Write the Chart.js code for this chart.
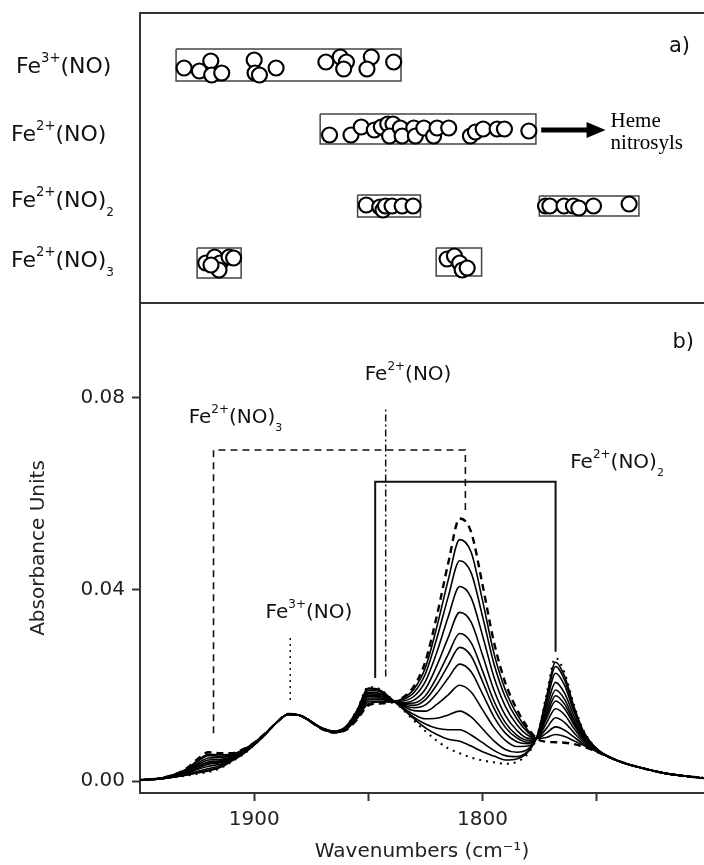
<!DOCTYPE html>
<html>
<head>
<meta charset="utf-8">
<script src="https://cdn.jsdelivr.net/npm/chart.js@4.4.0/dist/chart.umd.min.js"></script>
<style>
  html, body { margin: 0; padding: 0; background: #fff; }
  #wrap { position: relative; width: 704px; height: 865px; overflow: hidden; }
  #topChart { position: absolute; left: 0; top: 0; }
  #bottomChart { position: absolute; left: 0; top: 303px; }
</style>
</head>
<body>
<div id="wrap">
  <canvas id="topChart" width="704" height="305" style="width:704px;height:305px"></canvas>
  <canvas id="bottomChart" width="704" height="562" style="width:704px;height:562px"></canvas>
</div>
<script>
// ---------- panel a) : literature band positions (cm-1), y = row level + jitter ----------
const fe3NO_wn = [1930.7, 1924.0, 1919.0, 1918.6, 1914.2, 1900.0, 1899.6, 1897.7, 1890.4, 1868.6, 1862.3, 1859.6, 1860.8, 1848.7, 1850.6, 1838.9];
const fe3NO_y  = [23.5, 23.2, 24.2, 22.8, 23.0, 24.3, 23.0, 22.8, 23.5, 24.1, 24.6, 24.1, 23.4, 24.6, 23.4, 24.1];

const fe2NO_wn = [1867.0, 1857.6, 1853.1, 1847.4, 1844.3, 1841.5, 1839.2, 1840.7, 1836.0, 1835.2, 1830.1, 1829.4, 1825.7, 1821.4, 1819.9, 1814.8, 1805.3, 1803.1, 1799.7, 1793.6, 1790.4, 1779.7];
const fe2NO_y  = [16.8, 16.8, 17.6, 17.3, 17.6, 17.9, 17.9, 16.7, 17.5, 16.7, 17.5, 16.7, 17.5, 16.7, 17.5, 17.5, 16.7, 17.1, 17.4, 17.4, 17.4, 17.2];

const fe2NO2_wn = [1850.9, 1845.0, 1843.6, 1842.5, 1839.6, 1835.2, 1830.4, 1772.4, 1770.5, 1764.3, 1760.2, 1757.8, 1751.4, 1735.8];
const fe2NO2_y  = [9.8, 9.6, 9.3, 9.7, 9.7, 9.7, 9.7, 9.7, 9.7, 9.7, 9.7, 9.5, 9.7, 9.9];

const fe2NO3_wn = [1921.2, 1917.3, 1914.9, 1911.0, 1909.0, 1915.4, 1918.9, 1815.5, 1812.3, 1810.0, 1808.9, 1806.7];
const fe2NO3_y  = [4.0, 4.6, 4.0, 4.6, 4.5, 3.3, 3.8, 4.4, 4.7, 4.0, 3.3, 3.5];

// boxes: [high wn, low wn, top level, bottom level]
const rangeBoxes = [
  [1934.2, 1835.7, 25.4, 22.2],
  [1871.1, 1776.6, 18.9, 15.9],
  [1854.7, 1827.2, 10.8, 8.6],
  [1775.1, 1731.5, 10.7, 8.7],
  [1925.0, 1905.7, 5.5, 2.5],
  [1820.3, 1800.4, 5.5, 2.7]
];

const rowLabels = [
  [["Fe", ""], ["3+", "sup"], ["(NO)", ""]],
  [["Fe", ""], ["2+", "sup"], ["(NO)", ""]],
  [["Fe", ""], ["2+", "sup"], ["(NO)", ""], ["2", "sub"]],
  [["Fe", ""], ["2+", "sup"], ["(NO)", ""], ["3", "sub"]]
];
const rowLabelLevel = [23.0, 16.2, 9.6, 3.6];
const rowLabelLeft = [16, 11, 11, 11];

// arrow "Heme nitrosyls"
const hemeArrow = { from: 1774.3, to: 1746.1, level: 17.3 };

// ---------- panel b) : IR spectra ----------
const wavenumbers = [1950, 1940, 1930, 1925, 1920, 1915, 1910, 1905, 1900, 1895, 1890, 1885, 1880, 1870, 1865, 1860, 1855, 1850, 1845, 1840, 1835, 1830, 1825, 1820, 1815, 1810, 1805, 1800, 1795, 1790, 1785, 1780, 1776, 1772, 1768, 1764, 1760, 1756, 1752, 1748, 1740, 1730, 1720, 1703];

// first spectrum (dotted)
const firstSpectrum = [0.0002, 0.0005, 0.0011, 0.0015, 0.0019, 0.0026, 0.0040, 0.0055, 0.0075, 0.0098, 0.0123, 0.0139, 0.0137, 0.0110, 0.0104, 0.0113, 0.0148, 0.0196, 0.0192, 0.0172, 0.0150, 0.0126, 0.0104, 0.0084, 0.0068, 0.0058, 0.0049, 0.0043, 0.0039, 0.0036, 0.0040, 0.0058, 0.0095, 0.0180, 0.0257, 0.0225, 0.0160, 0.0108, 0.0078, 0.0060, 0.0041, 0.0027, 0.0016, 0.0006];

// intermediate spectra (solid)
const spectrum01 = [0.0002, 0.0005, 0.0012, 0.0017, 0.0021, 0.0028, 0.0041, 0.0056, 0.0075, 0.0098, 0.0123, 0.0139, 0.0137, 0.0110, 0.0104, 0.0113, 0.0147, 0.0194, 0.0190, 0.0172, 0.0151, 0.0130, 0.0111, 0.0097, 0.0087, 0.0083, 0.0073, 0.0061, 0.0052, 0.0044, 0.0046, 0.0061, 0.0095, 0.0175, 0.0248, 0.0218, 0.0156, 0.0106, 0.0077, 0.0060, 0.0041, 0.0027, 0.0016, 0.0006];
const spectrum02 = [0.0002, 0.0005, 0.0012, 0.0018, 0.0023, 0.0029, 0.0042, 0.0056, 0.0076, 0.0098, 0.0123, 0.0139, 0.0137, 0.0110, 0.0104, 0.0112, 0.0146, 0.0192, 0.0189, 0.0171, 0.0152, 0.0133, 0.0119, 0.0110, 0.0107, 0.0107, 0.0096, 0.0080, 0.0064, 0.0053, 0.0051, 0.0063, 0.0094, 0.0170, 0.0239, 0.0210, 0.0152, 0.0104, 0.0077, 0.0060, 0.0041, 0.0027, 0.0016, 0.0006];
const spectrum03 = [0.0002, 0.0005, 0.0014, 0.0020, 0.0026, 0.0032, 0.0043, 0.0057, 0.0076, 0.0098, 0.0123, 0.0139, 0.0137, 0.0110, 0.0103, 0.0112, 0.0144, 0.0189, 0.0187, 0.0171, 0.0154, 0.0139, 0.0130, 0.0131, 0.0138, 0.0146, 0.0134, 0.0109, 0.0084, 0.0066, 0.0060, 0.0067, 0.0094, 0.0162, 0.0225, 0.0199, 0.0145, 0.0102, 0.0076, 0.0059, 0.0041, 0.0027, 0.0016, 0.0006];
const spectrum04 = [0.0002, 0.0006, 0.0015, 0.0024, 0.0031, 0.0035, 0.0045, 0.0058, 0.0076, 0.0099, 0.0123, 0.0139, 0.0137, 0.0109, 0.0103, 0.0111, 0.0142, 0.0185, 0.0183, 0.0170, 0.0157, 0.0147, 0.0146, 0.0160, 0.0180, 0.0200, 0.0186, 0.0149, 0.0112, 0.0085, 0.0072, 0.0073, 0.0093, 0.0152, 0.0206, 0.0183, 0.0136, 0.0098, 0.0074, 0.0059, 0.0041, 0.0027, 0.0016, 0.0006];
const spectrum05 = [0.0002, 0.0006, 0.0016, 0.0026, 0.0035, 0.0038, 0.0047, 0.0059, 0.0077, 0.0099, 0.0123, 0.0139, 0.0137, 0.0109, 0.0103, 0.0110, 0.0140, 0.0182, 0.0181, 0.0169, 0.0159, 0.0153, 0.0159, 0.0183, 0.0215, 0.0244, 0.0228, 0.0182, 0.0134, 0.0100, 0.0082, 0.0078, 0.0092, 0.0143, 0.0190, 0.0170, 0.0128, 0.0094, 0.0073, 0.0059, 0.0041, 0.0027, 0.0016, 0.0006];
const spectrum06 = [0.0002, 0.0006, 0.0017, 0.0029, 0.0037, 0.0040, 0.0048, 0.0060, 0.0077, 0.0099, 0.0123, 0.0139, 0.0137, 0.0109, 0.0103, 0.0110, 0.0139, 0.0179, 0.0178, 0.0168, 0.0161, 0.0158, 0.0170, 0.0201, 0.0242, 0.0279, 0.0261, 0.0208, 0.0152, 0.0112, 0.0090, 0.0081, 0.0092, 0.0136, 0.0178, 0.0160, 0.0123, 0.0092, 0.0072, 0.0059, 0.0041, 0.0027, 0.0016, 0.0006];
const spectrum07 = [0.0002, 0.0006, 0.0018, 0.0030, 0.0040, 0.0042, 0.0049, 0.0061, 0.0078, 0.0099, 0.0123, 0.0140, 0.0137, 0.0109, 0.0102, 0.0109, 0.0138, 0.0177, 0.0177, 0.0168, 0.0162, 0.0163, 0.0178, 0.0217, 0.0265, 0.0308, 0.0289, 0.0230, 0.0167, 0.0122, 0.0096, 0.0085, 0.0091, 0.0130, 0.0167, 0.0151, 0.0118, 0.0090, 0.0071, 0.0058, 0.0041, 0.0027, 0.0016, 0.0006];
const spectrum08 = [0.0002, 0.0006, 0.0019, 0.0033, 0.0044, 0.0045, 0.0051, 0.0062, 0.0078, 0.0099, 0.0123, 0.0140, 0.0137, 0.0109, 0.0102, 0.0109, 0.0136, 0.0173, 0.0174, 0.0167, 0.0164, 0.0169, 0.0192, 0.0241, 0.0300, 0.0352, 0.0332, 0.0263, 0.0190, 0.0137, 0.0106, 0.0089, 0.0091, 0.0121, 0.0151, 0.0138, 0.0110, 0.0086, 0.0070, 0.0058, 0.0041, 0.0027, 0.0016, 0.0006];
const spectrum09 = [0.0002, 0.0006, 0.0021, 0.0036, 0.0048, 0.0049, 0.0053, 0.0063, 0.0079, 0.0099, 0.0123, 0.0140, 0.0137, 0.0109, 0.0102, 0.0108, 0.0134, 0.0169, 0.0171, 0.0166, 0.0167, 0.0177, 0.0208, 0.0269, 0.0343, 0.0406, 0.0383, 0.0304, 0.0217, 0.0156, 0.0118, 0.0095, 0.0090, 0.0110, 0.0132, 0.0122, 0.0101, 0.0082, 0.0069, 0.0058, 0.0041, 0.0027, 0.0016, 0.0006];
const spectrum10 = [0.0002, 0.0007, 0.0022, 0.0040, 0.0053, 0.0052, 0.0055, 0.0064, 0.0079, 0.0100, 0.0123, 0.0140, 0.0137, 0.0108, 0.0102, 0.0107, 0.0132, 0.0165, 0.0167, 0.0165, 0.0170, 0.0185, 0.0224, 0.0298, 0.0385, 0.0460, 0.0435, 0.0344, 0.0245, 0.0175, 0.0130, 0.0101, 0.0089, 0.0100, 0.0113, 0.0106, 0.0092, 0.0078, 0.0067, 0.0058, 0.0041, 0.0027, 0.0016, 0.0006];
const spectrum11 = [0.0002, 0.0007, 0.0024, 0.0042, 0.0056, 0.0055, 0.0056, 0.0065, 0.0080, 0.0100, 0.0123, 0.0140, 0.0137, 0.0108, 0.0101, 0.0107, 0.0130, 0.0161, 0.0165, 0.0165, 0.0172, 0.0192, 0.0237, 0.0322, 0.0420, 0.0504, 0.0478, 0.0377, 0.0267, 0.0190, 0.0140, 0.0105, 0.0089, 0.0091, 0.0097, 0.0093, 0.0084, 0.0075, 0.0066, 0.0057, 0.0041, 0.0027, 0.0016, 0.0006];

// last spectrum (dashed)
const lastSpectrum = [0.0002, 0.0007, 0.0025, 0.0045, 0.0060, 0.0058, 0.0058, 0.0066, 0.0080, 0.0100, 0.0123, 0.0140, 0.0137, 0.0108, 0.0101, 0.0106, 0.0128, 0.0158, 0.0162, 0.0164, 0.0174, 0.0198, 0.0250, 0.0345, 0.0455, 0.0548, 0.0520, 0.0410, 0.0290, 0.0205, 0.0150, 0.0110, 0.0088, 0.0082, 0.0081, 0.0080, 0.0077, 0.0072, 0.0065, 0.0057, 0.0041, 0.0027, 0.0016, 0.0006];

const solidSpectra = [spectrum01, spectrum02, spectrum03, spectrum04, spectrum05, spectrum06, spectrum07, spectrum08, spectrum09, spectrum10, spectrum11];

// assignment markers (wn, absorbance)
const markNO3_wn  = [1917.8, 1917.8, 1807.5, 1807.5];
const markNO3_abs = [0.0100, 0.0691, 0.0691, 0.0565];
const markNO2_wn  = [1847.0, 1847.0, 1768.0, 1768.0];
const markNO2_abs = [0.0215, 0.0625, 0.0625, 0.0270];
const markNO_wn   = [1842.4, 1842.4];
const markNO_abs  = [0.0218, 0.0782];
const markFe3_wn  = [1884.2, 1884.2];
const markFe3_abs = [0.0169, 0.0305];

const bandLabels = [
  [["Fe", ""], ["2+", "sup"], ["(NO)", ""]],
  [["Fe", ""], ["2+", "sup"], ["(NO)", ""], ["3", "sub"]],
  [["Fe", ""], ["2+", "sup"], ["(NO)", ""], ["2", "sub"]],
  [["Fe", ""], ["3+", "sup"], ["(NO)", ""]]
];
const bandLabelWn  = [1851.6, 1928.7, 1761.6, 1895.0];
const bandLabelAbs = [0.0838, 0.0748, 0.0654, 0.0340];

const xTickValues = [1900, 1850, 1800, 1750];
const xTickLabels = ["1900", "", "1800", ""];
const yTickValues = [0, 0.04, 0.08];

const WN_MIN = 1703, WN_MAX = 1950;

Chart.defaults.font.family = "'DejaVu Sans'";
Chart.defaults.color = "#222";

// text with super/subscripts
function drawChem(ctx, parts, x, y, size, family) {
  let cx = x;
  parts.forEach(([t, m]) => {
    const s = m === "sup" ? size * 0.6 : m === "sub" ? size * 0.55 : size;
    const dy = m === "sup" ? -size * 0.5 : m === "sub" ? size * 0.42 : 0;
    ctx.font = `${s}px ${family}`;
    ctx.fillText(t, cx, y + dy);
    cx += ctx.measureText(t).width;
  });
}

const zip = (xs, ys) => xs.map((v, i) => ({ x: v, y: ys[i] }));

// ---------------- top chart ----------------
const circleStyle = {
  pointRadius: 7.5, pointBorderWidth: 2.2,
  pointBackgroundColor: "#fff", pointBorderColor: "#000",
  showLine: false, order: 1
};

const topDatasets = [
  ...rangeBoxes.map((b) => ({
    data: [{ x: b[0], y: b[2] }, { x: b[1], y: b[2] }, { x: b[1], y: b[3] }, { x: b[0], y: b[3] }, { x: b[0], y: b[2] }],
    showLine: true, pointRadius: 0, borderColor: "#444", borderWidth: 1.5, order: 2
  })),
  { data: zip(fe3NO_wn, fe3NO_y), ...circleStyle },
  { data: zip(fe2NO_wn, fe2NO_y), ...circleStyle },
  { data: zip(fe2NO2_wn, fe2NO2_y), ...circleStyle },
  { data: zip(fe2NO3_wn, fe2NO3_y), ...circleStyle }
];

const topDecor = {
  id: "topDecor",
  afterDraw(chart) {
    const { ctx, chartArea: a, scales: { x, y } } = chart;
    ctx.save();
    ctx.strokeStyle = "#333";
    ctx.lineWidth = 2;
    ctx.beginPath();
    ctx.moveTo(a.right, a.top);
    ctx.lineTo(a.left, a.top);
    ctx.lineTo(a.left, a.bottom);
    ctx.lineTo(a.right, a.bottom);
    ctx.stroke();

    ctx.fillStyle = "#111";
    ctx.textAlign = "left";
    ctx.textBaseline = "alphabetic";
    rowLabels.forEach((parts, i) => {
      drawChem(ctx, parts, rowLabelLeft[i], y.getPixelForValue(rowLabelLevel[i]), 22, "'DejaVu Sans'");
    });

    ctx.font = "21px 'DejaVu Sans'";
    ctx.textAlign = "right";
    ctx.fillText("a)", a.right - 14, a.top + 39);

    // arrow
    const x0 = x.getPixelForValue(hemeArrow.from);
    const x1 = x.getPixelForValue(hemeArrow.to);
    const yy = y.getPixelForValue(hemeArrow.level);
    ctx.strokeStyle = "#000";
    ctx.fillStyle = "#000";
    ctx.lineWidth = 5;
    ctx.beginPath();
    ctx.moveTo(x0, yy);
    ctx.lineTo(x1 - 14, yy);
    ctx.stroke();
    ctx.beginPath();
    ctx.moveTo(x1, yy);
    ctx.lineTo(x1 - 19, yy - 8);
    ctx.lineTo(x1 - 19, yy + 8);
    ctx.closePath();
    ctx.fill();

    ctx.textAlign = "left";
    ctx.font = "21px 'Liberation Serif'";
    ctx.fillText("Heme", x1 + 5, yy - 3);
    ctx.fillText("nitrosyls", x1 + 5, yy + 19);
    ctx.restore();
  }
};

new Chart(document.getElementById("topChart"), {
  type: "scatter",
  data: { datasets: topDatasets },
  options: {
    responsive: false,
    animation: false,
    layout: { padding: { left: 140, top: 13, right: 0, bottom: 2 }, autoPadding: false },
    plugins: { legend: { display: false }, tooltip: { enabled: false } },
    scales: {
      x: { type: "linear", reverse: true, min: WN_MIN, max: WN_MAX, display: false },
      y: { type: "linear", min: 0, max: 29, display: false }
    }
  },
  plugins: [topDecor]
});

// ---------------- bottom chart ----------------
const lineBase = { pointRadius: 0, borderColor: "#000", fill: false, cubicInterpolationMode: "monotone" };
const markBase = { pointRadius: 0, borderColor: "#111", fill: false, tension: 0, order: 3 };

const bottomDatasets = [
  { data: zip(wavenumbers, lastSpectrum), ...lineBase, borderWidth: 2.4, borderDash: [7, 5], order: 0 },
  ...solidSpectra.map((s) => ({ data: zip(wavenumbers, s), ...lineBase, borderWidth: 1.6, order: 1 })),
  { data: zip(wavenumbers, firstSpectrum), ...lineBase, borderWidth: 2, borderDash: [2, 5], order: 1 },
  { data: zip(markNO3_wn, markNO3_abs), ...markBase, borderWidth: 1.6, borderDash: [7, 5] },
  { data: zip(markNO2_wn, markNO2_abs), ...markBase, borderWidth: 2 },
  { data: zip(markNO_wn, markNO_abs), ...markBase, borderWidth: 1.5, borderDash: [7, 3, 2, 3] },
  { data: zip(markFe3_wn, markFe3_abs), ...markBase, borderWidth: 1.5, borderDash: [2, 4] }
];

const bottomDecor = {
  id: "bottomDecor",
  afterDraw(chart) {
    const { ctx, chartArea: a, scales: { x, y } } = chart;
    ctx.save();
    ctx.strokeStyle = "#333";
    ctx.lineWidth = 2;
    ctx.beginPath();
    ctx.moveTo(a.left, a.top);
    ctx.lineTo(a.right, a.top);
    ctx.stroke();

    ctx.fillStyle = "#111";
    ctx.textBaseline = "alphabetic";
    ctx.textAlign = "right";
    ctx.font = "21px 'DejaVu Sans'";
    ctx.fillText("b)", a.right - 10, a.top + 45);

    ctx.textAlign = "left";
    bandLabels.forEach((parts, i) => {
      drawChem(ctx, parts, x.getPixelForValue(bandLabelWn[i]), y.getPixelForValue(bandLabelAbs[i]), 20, "'DejaVu Sans'");
    });
    ctx.restore();
  }
};

// keep the plot frame flush with the canvas edges
const noScalePadding = (s) => {
  s.paddingTop = 0; s.paddingBottom = 0; s.paddingLeft = 0; s.paddingRight = 0;
};

new Chart(document.getElementById("bottomChart"), {
  type: "line",
  data: { datasets: bottomDatasets },
  options: {
    responsive: false,
    animation: false,
    layout: { padding: 0, autoPadding: false },
    plugins: { legend: { display: false }, tooltip: { enabled: false } },
    scales: {
      x: {
        type: "linear", reverse: true, min: WN_MIN, max: WN_MAX,
        afterBuildTicks: (s) => { s.ticks = xTickValues.map((v) => ({ value: v })); },
        afterFit: (s) => { s.height = 72; noScalePadding(s); },
        ticks: {
          autoSkip: false, maxRotation: 0, padding: 7,
          font: { size: 20 }, color: "#222",
          callback: (v) => xTickLabels[xTickValues.indexOf(v)]
        },
        grid: { drawOnChartArea: false, drawTicks: true, tickLength: 8, tickWidth: 2, tickColor: "#333" },
        border: { display: true, color: "#333", width: 2 },
        title: { display: true, text: "Wavenumbers (cm⁻¹)", font: { size: 20 }, color: "#222", padding: { top: 0, bottom: 1 } }
      },
      y: {
        type: "linear", min: -0.0025, max: 0.0998,
        afterBuildTicks: (s) => { s.ticks = yTickValues.map((v) => ({ value: v })); },
        afterFit: (s) => { s.width = 140; noScalePadding(s); },
        ticks: {
          padding: 7, font: { size: 20 }, color: "#222",
          callback: (v) => v.toFixed(2)
        },
        grid: { drawOnChartArea: false, drawTicks: true, tickLength: 8, tickWidth: 2, tickColor: "#333" },
        border: { display: true, color: "#333", width: 2 },
        title: { display: true, text: "Absorbance Units", font: { size: 20 }, color: "#222", padding: { top: 27, bottom: 0 } }
      }
    }
  },
  plugins: [bottomDecor]
});
</script>
</body>
</html>
